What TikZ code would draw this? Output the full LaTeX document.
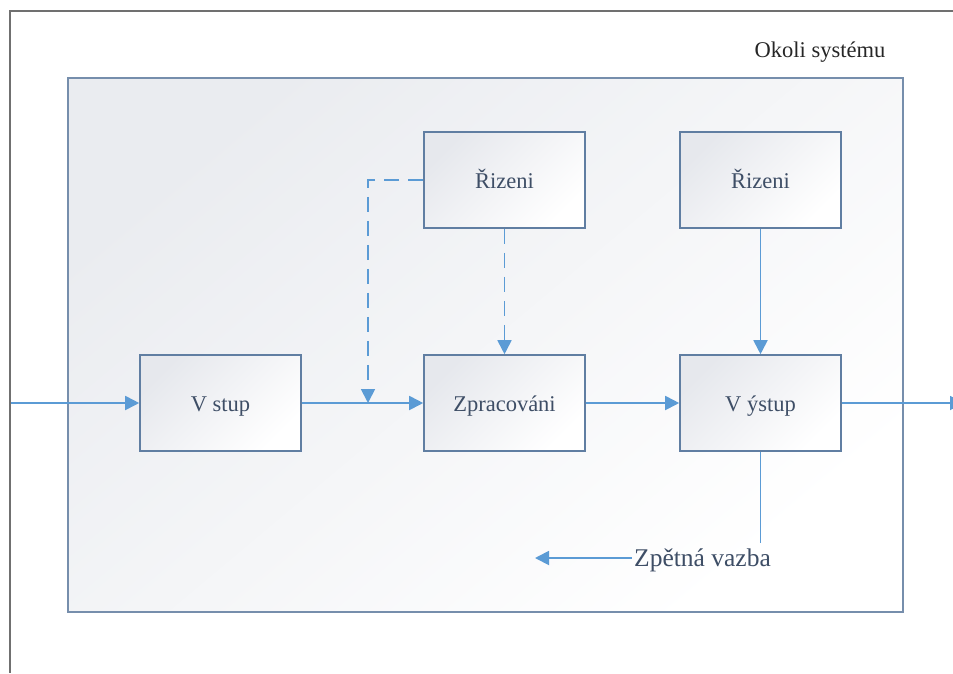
\documentclass[tikz,border=0pt]{standalone}
\usepackage{fontspec}
\setmainfont{Liberation Serif}
\usetikzlibrary{arrows.meta,positioning}
\definecolor{frameline}{RGB}{112,112,112}
\definecolor{envline}{RGB}{118,142,172}
\definecolor{boxshade}{RGB}{230,232,237}
\definecolor{envshade}{RGB}{234,236,240}
\definecolor{boxmid}{RGB}{248,249,250}
\definecolor{boxline}{RGB}{96,126,162}
\definecolor{flow}{RGB}{91,155,213}
\definecolor{boxtext}{RGB}{62,78,102}
\tikzset{
  block/.style={draw=boxline, line width=1.6pt, minimum width=161pt, minimum height=96pt,
    inner sep=0pt, text height=17pt, text depth=0pt,
    top color=boxshade, middle color=boxmid, bottom color=white, shading angle=45,
    text=boxtext, font=\fontsize{22.5}{26}\selectfont},
  envbox/.style={draw=envline, line width=1.8pt, minimum width=835pt, minimum height=534pt,
    inner sep=0pt, top color=envshade, middle color=white!97!envshade, bottom color=white, shading angle=40},
  flowline/.style={draw=flow, line width=1.8pt},
  tipped/.style={-{Triangle[length=14pt,width=14pt]}},
  dashline/.style={flowline, dash pattern=on 15pt off 9pt}
}
\begin{document}
\begin{tikzpicture}[x=1pt,y=1pt]
  \useasboundingbox[fill=white] (0,0) rectangle (953,-673);
  % outer frame, running off the right and bottom edges
  \draw[frameline, line width=2.2pt] (953,-11) -- (10,-11) -- (10,-673);
  % system environment
  \node[envbox] (env) at (485.5,-345) {};
  \node[text=black!85, font=\fontsize{22.5}{26}\selectfont, anchor=base] (envlabel) at (820,-57) {Okoli systému};
  % blocks
  \node[block] (vstup) at (220.5,-403) {V stup};
  \node[block] (zprac) at (504.5,-403) {Zpracováni};
  \node[block] (vystup) at (760.5,-403) {V ýstup};
  \node[block] (riz1) at (504.5,-180) {Řizeni};
  \node[block] (riz2) at (760.5,-180) {Řizeni};
  % free ends
  \coordinate (inp) at (11,-403);
  \coordinate (outp) at (964,-403);
  \coordinate (join) at (368,-403);
  \coordinate (bend) at (368,-180);
  \node[text=boxtext, font=\fontsize{25.5}{28}\selectfont, inner sep=0pt, anchor=base] (fb) at (702.5,-566) {Zpětná vazba};
  \coordinate (fbtop) at (760.5,-543);
  \coordinate (fbend) at (535,-558);
  % flows
  \draw[flowline, tipped] (inp) -- (vstup.west);
  \draw[flowline, tipped] (vstup.east) -- (zprac.west);
  \draw[flowline, tipped] (zprac.east) -- (vystup.west);
  \draw[flowline, tipped] (riz2.south) -- (vystup.north);
  \draw[flowline, tipped] (vystup.east) -- (outp);
  \draw[dashline, tipped] (riz1.south) -- (zprac.north);
  \draw[dashline, tipped] (riz1.west) -- (bend) -- (join);
  \draw[flowline] (vystup.south) -- (fbtop);
  \draw[flowline, tipped] (fb.west |- fbend) ++(-2,0) -- (fbend);
\end{tikzpicture}
\end{document}
